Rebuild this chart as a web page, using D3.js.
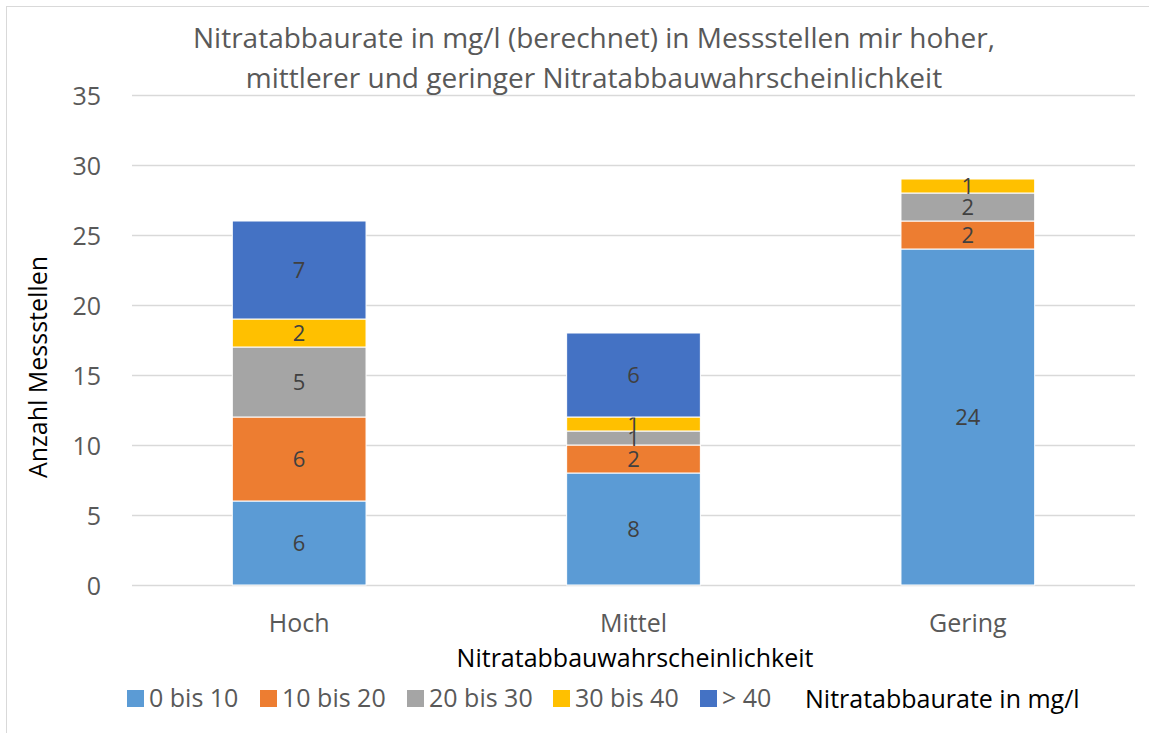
<!DOCTYPE html>
<html>
<head>
<meta charset="utf-8">
<script src="https://cdn.jsdelivr.net/npm/d3@7"></script>
<style>
  body { margin: 0; background: #fff; }
  svg text { font-family: "Open Sans", "Noto Sans", sans-serif; }
</style>
</head>
<body>
<div id="chart"></div>
<script>
// Nitratabbaurate stacked bars

var categories = ["Hoch", "Mittel", "Gering"];
var seriesNames = ["0 bis 10", "10 bis 20", "20 bis 30", "30 bis 40", "> 40"];
var seriesColors = ["#5B9BD5", "#ED7D31", "#A5A5A5", "#FFC000", "#4472C4"];
var s0bis10 = [6, 8, 24];
var s10bis20 = [6, 2, 2];
var s20bis30 = [5, 1, 2];
var s30bis40 = [2, 1, 1];
var sUeber40 = [7, 6, 0];
var yTicks = [0, 5, 10, 15, 20, 25, 30, 35];

var width = 1149, height = 733;
var margin = {left: 132, right: 14, top: 95, bottom: 148};

var rows = categories.map(function(c, i) {
  return {cat: c, "0 bis 10": s0bis10[i], "10 bis 20": s10bis20[i], "20 bis 30": s20bis30[i],
          "30 bis 40": s30bis40[i], "> 40": sUeber40[i]};
});
var stacked = d3.stack().keys(seriesNames)(rows);

var svg = d3.select("#chart").append("svg")
    .attr("width", width)
    .attr("height", height);

// chart border
svg.append("rect")
   .attr("x", 6.5).attr("y", 6.5)
   .attr("width", width).attr("height", height)
   .attr("fill", "none").attr("stroke", "#d9d9d9");

var x = d3.scaleBand()
          .domain(categories)
          .range([margin.left, width - margin.right])
          .paddingInner(0.6)
          .paddingOuter(0.3);

var y = d3.scaleLinear()
          .domain([0, 35])
          .range([height - margin.bottom, margin.top]);

// gridlines
svg.append("g")
   .attr("transform", "translate(" + margin.left + ",0)")
   .call(d3.axisLeft(y).tickValues(yTicks).tickSize(-(width - margin.left - margin.right)).tickFormat(""))
   .call(function(g) {
     g.select(".domain").remove();
     g.selectAll("line").attr("stroke", "#d9d9d9").attr("stroke-width", 1.5);
   });

// y tick labels
svg.append("g")
   .attr("transform", "translate(" + (margin.left - 28) + ",0)")
   .call(d3.axisLeft(y).tickValues(yTicks).tickSize(0))
   .call(function(g) {
     g.select(".domain").remove();
     g.selectAll("text").attr("fill", "#595959").style("font-size", "25px")
      .attr("dy", "0.36em");
   });

// bars
var layer = svg.selectAll(".layer").data(stacked).enter().append("g")
    .attr("class", "layer")
    .attr("fill", function(d, i) { return seriesColors[i]; });

layer.selectAll("rect").data(function(d) { return d; }).enter().append("rect")
     .attr("x", function(d) { return x(d.data.cat); })
     .attr("y", function(d) { return y(d[1]); })
     .attr("width", x.bandwidth())
     .attr("height", function(d) { return y(d[0]) - y(d[1]); })
     .attr("stroke", "#fff").attr("stroke-width", 1);

// data labels
layer.selectAll("text").data(function(d) { return d.filter(function(v) { return v[1] - v[0] > 0; }); })
     .enter().append("text")
     .attr("x", function(d) { return x(d.data.cat) + x.bandwidth() / 2; })
     .attr("y", function(d) { return y((d[0] + d[1]) / 2); })
     .attr("dy", "0.36em")
     .attr("text-anchor", "middle")
     .attr("fill", "#404040")
     .style("font-size", "22px")
     .text(function(d) { return d[1] - d[0]; });

// category labels
svg.append("g")
   .attr("transform", "translate(0," + (height - margin.bottom) + ")")
   .call(d3.axisBottom(x).tickSize(0).tickPadding(28))
   .call(function(g) {
     g.select(".domain").remove();
     g.selectAll("text").attr("fill", "#595959").style("font-size", "25px").attr("dy", 0)
      .attr("y", 47);
   });

// titles
var title = svg.append("text")
   .attr("text-anchor", "middle")
   .attr("fill", "#595959")
   .style("font-size", "28px");
title.append("tspan").attr("x", 594).attr("y", 48).text("Nitratabbaurate in mg/l (berechnet) in Messstellen mir hoher,");
title.append("tspan").attr("x", 594).attr("y", 88).text("mittlerer und geringer Nitratabbauwahrscheinlichkeit");

svg.append("text")
   .attr("transform", "translate(47,367) rotate(-90)")
   .attr("text-anchor", "middle")
   .style("font-size", "25px")
   .text("Anzahl Messstellen");

svg.append("text")
   .attr("x", 635).attr("y", 667)
   .attr("text-anchor", "middle")
   .style("font-size", "25px")
   .text("Nitratabbauwahrscheinlichkeit");

// legend
var legendX = [127, 260, 407, 553, 700];
var legend = svg.selectAll(".legend").data(seriesNames).enter().append("g")
    .attr("class", "legend")
    .attr("transform", function(d, i) { return "translate(" + legendX[i] + ",707)"; });
legend.append("rect")
      .attr("x", 0).attr("y", -17)
      .attr("width", 17).attr("height", 17)
      .attr("fill", function(d, i) { return seriesColors[i]; });
legend.append("text")
      .attr("x", 22)
      .attr("fill", "#595959")
      .style("font-size", "25px")
      .text(function(d) { return d; });

svg.append("text")
   .attr("x", 805).attr("y", 708)
   .style("font-size", "25px")
   .text("Nitratabbaurate in mg/l");
</script>
</body>
</html>
